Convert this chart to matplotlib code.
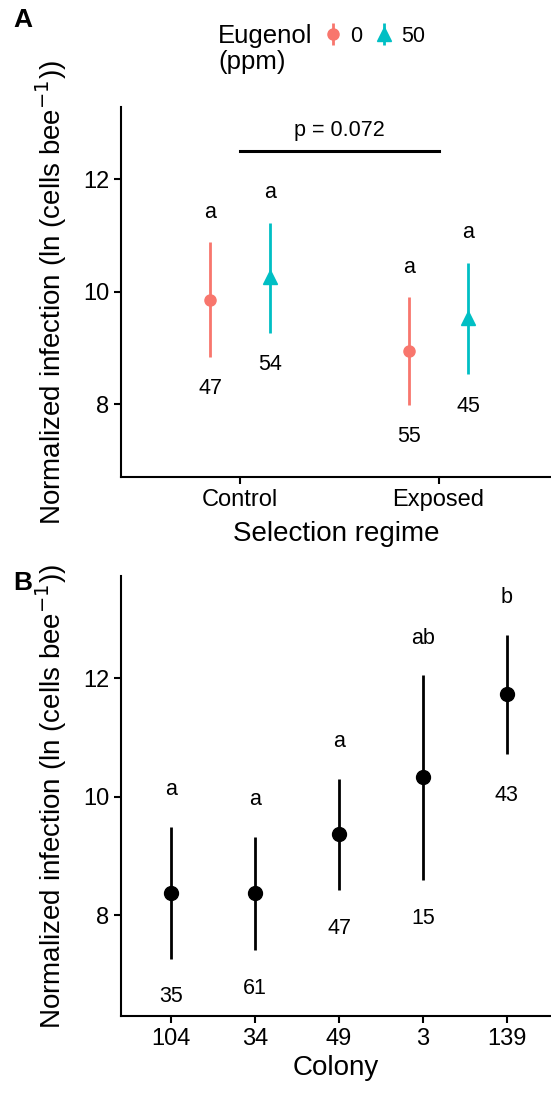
import matplotlib
matplotlib.use("Agg")
import matplotlib.pyplot as plt

plt.rcParams["font.family"] = ["Liberation Sans", "DejaVu Sans"]

# Panel A data
regimes = ["Control", "Exposed"]
dose_labels = ["0", "50"]
mean_0 = [9.86, 8.95]
low_0 = [8.84, 7.99]
high_0 = [10.88, 9.90]
mean_50 = [10.27, 9.54]
low_50 = [9.27, 8.53]
high_50 = [11.23, 10.51]
letters_0 = ["a", "a"]
letters_50 = ["a", "a"]
letter_y_0 = [11.41, 10.44]
letter_y_50 = [11.76, 11.05]
n_0 = ["47", "55"]
n_50 = ["54", "45"]
n_y_0 = [8.27, 7.42]
n_y_50 = [8.70, 7.96]
p_text = "p = 0.072"
p_line_y = 12.50
p_text_y = 12.88

# Panel B data
colonies = ["104", "34", "49", "3", "139"]
col_mean = [8.38, 8.37, 9.37, 10.33, 11.73]
col_low = [7.27, 7.41, 8.43, 8.60, 10.73]
col_high = [9.49, 9.33, 10.31, 12.05, 12.74]
col_letters = ["a", "a", "a", "ab", "b"]
col_letter_y = [10.12, 9.96, 10.93, 12.67, 13.36]
col_n = ["35", "61", "47", "15", "43"]
col_n_y = [6.63, 6.77, 7.78, 7.94, 10.03]

red = "#F8766D"
teal = "#00BFC4"
W, H = 551, 1113

fig = plt.figure(figsize=(W / 100, H / 100), dpi=100)
axA = fig.add_axes([121 / W, 1 - 477 / H, (W - 121) / W, (477 - 107) / H])
axB = fig.add_axes([121 / W, 1 - 1016 / H, (W - 121) / W, (1016 - 576) / H])

ylabel = "Normalized infection (ln (cells bee$^{-1}$))"
dodge = 0.15

# Panel A
xA = [1, 2]
x0 = [x - dodge for x in xA]
x50 = [x + dodge for x in xA]
err0 = [[m - l for m, l in zip(mean_0, low_0)], [h - m for m, h in zip(mean_0, high_0)]]
err50 = [[m - l for m, l in zip(mean_50, low_50)], [h - m for m, h in zip(mean_50, high_50)]]
h0 = axA.errorbar(x0, mean_0, yerr=err0, fmt="o", color=red, ms=8, elinewidth=2, capsize=0)
h50 = axA.errorbar(x50, mean_50, yerr=err50, fmt="^", color=teal, ms=10, elinewidth=2, capsize=0)
for x, ly, lt, ny, nt in zip(x0, letter_y_0, letters_0, n_y_0, n_0):
    axA.text(x, ly, lt, ha="center", va="center", fontsize=15.5)
    axA.text(x, ny, nt, ha="center", va="center", fontsize=15.5)
for x, ly, lt, ny, nt in zip(x50, letter_y_50, letters_50, n_y_50, n_50):
    axA.text(x, ly, lt, ha="center", va="center", fontsize=15.5)
    axA.text(x, ny, nt, ha="center", va="center", fontsize=15.5)
axA.plot(xA, [p_line_y, p_line_y], color="black", lw=2.2)
axA.text(sum(xA) / 2, p_text_y, p_text, ha="center", va="center", fontsize=15.5)
axA.set_xlim(0.4, 1 + (W - 239.3) / 199)
axA.set_ylim(6.70, 13.29)
axA.set_xticks(xA)
axA.set_xticklabels(regimes)
axA.set_yticks([8, 10, 12])
axA.set_xlabel("Selection regime", fontsize=20, labelpad=7)
axA.set_ylabel(ylabel, fontsize=20)

# Panel B
xB = list(range(1, len(colonies) + 1))
errB = [[m - l for m, l in zip(col_mean, col_low)], [h - m for m, h in zip(col_mean, col_high)]]
axB.errorbar(xB, col_mean, yerr=errB, fmt="o", color="black", ms=10, elinewidth=2, capsize=0)
for x, ly, lt, ny, nt in zip(xB, col_letter_y, col_letters, col_n_y, col_n):
    axB.text(x, ly, lt, ha="center", va="center", fontsize=15.5)
    axB.text(x, ny, nt, ha="center", va="center", fontsize=15.5)
axB.set_xlim(0.4, 1 + (W - 170.7) / 84)
axB.set_ylim(6.30, 13.73)
axB.set_xticks(xB)
axB.set_xticklabels(colonies)
axB.set_yticks([8, 10, 12])
axB.set_xlabel("Colony", fontsize=20, labelpad=4)
axB.set_ylabel(ylabel, fontsize=20)

for ax in (axA, axB):
    for s in ("top", "right"):
        ax.spines[s].set_visible(False)
    for s in ("left", "bottom"):
        ax.spines[s].set_linewidth(1.5)
    ax.tick_params(direction="out", length=5, width=1.5, labelsize=17, colors="black")
    ax.yaxis.labelpad = 10

# legend
fig.text(218 / W, 1 - 49 / H, "Eugenol\n(ppm)", fontsize=18.5, ha="left", va="center", linespacing=1.08)
fig.legend([h0, h50], dose_labels, loc="center left", bbox_to_anchor=(314 / W, 1 - 36 / H),
           ncol=2, frameon=False, fontsize=15.5, handlelength=0.8, handletextpad=0.4,
           columnspacing=0.6, borderpad=0)

fig.text(13 / W, 1 - 20 / H, "A", fontsize=19, fontweight="bold", va="center")
fig.text(13 / W, 1 - 583 / H, "B", fontsize=19, fontweight="bold", va="center")

fig.savefig("out.png", dpi=100)
